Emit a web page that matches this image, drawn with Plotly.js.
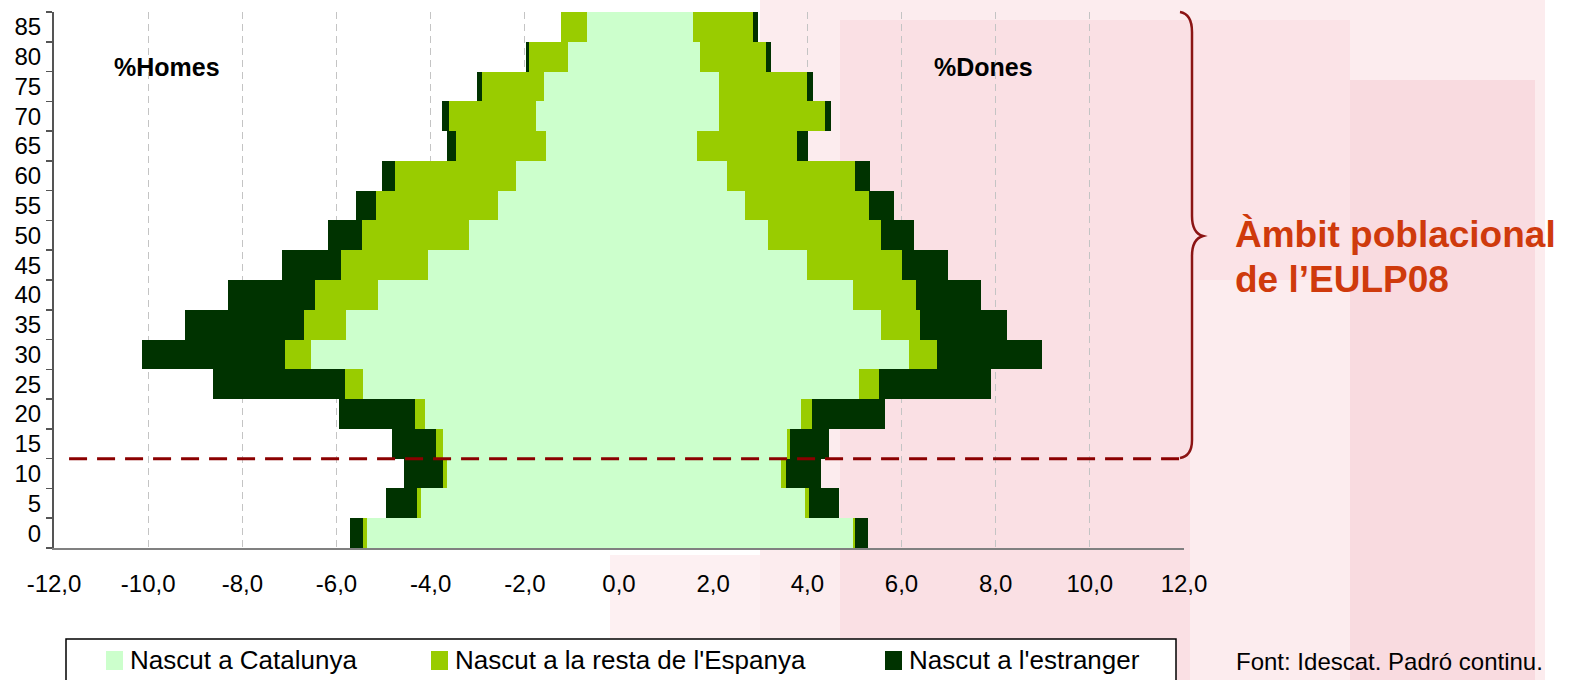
<!DOCTYPE html>
<html>
<head>
<meta charset="utf-8">
<script src="https://cdn.plot.ly/plotly-3.0.1.min.js"></script>
<style>
    body { margin: 0; background: #ffffff; }
    #chart { width: 1571px; height: 680px; }
</style>
</head>
<body>
<div id="chart"></div>
<script>
// Age groups, bottom to top
let ages = ["0", "5", "10", "15", "20", "25", "30", "35", "40", "45", "50", "55", "60", "65", "70", "75", "80", "85"];

// % of population, men (drawn to the left)
let men_catalunya = [5.35, 4.21, 3.65, 3.74, 4.12, 5.44, 6.54, 5.79, 5.12, 4.06, 3.18, 2.58, 2.19, 1.54, 1.76, 1.59, 1.08, 0.68];
let men_espanya   = [0.09, 0.07, 0.09, 0.15, 0.21, 0.38, 0.55, 0.90, 1.33, 1.85, 2.27, 2.59, 2.57, 1.93, 1.86, 1.32, 0.84, 0.55];
let men_estranger = [0.28, 0.66, 0.82, 0.93, 1.61, 2.80, 3.04, 2.53, 1.85, 1.25, 0.73, 0.42, 0.27, 0.18, 0.14, 0.11, 0.05, 0.00];

// % of population, women (drawn to the right)
let women_catalunya = [4.98, 3.96, 3.45, 3.56, 3.86, 5.10, 6.16, 5.56, 4.97, 3.99, 3.17, 2.68, 2.29, 1.66, 2.13, 2.13, 1.72, 1.57];
let women_espanya   = [0.03, 0.07, 0.10, 0.07, 0.24, 0.42, 0.59, 0.83, 1.33, 2.02, 2.39, 2.64, 2.73, 2.12, 2.24, 1.87, 1.40, 1.28];
let women_estranger = [0.27, 0.65, 0.73, 0.82, 1.56, 2.39, 2.24, 1.84, 1.38, 0.97, 0.70, 0.51, 0.32, 0.23, 0.14, 0.13, 0.11, 0.10];

let series_names = ["Nascut a Catalunya", "Nascut a la resta de l'Espanya", "Nascut a l'estranger"];
let series_colors = ["#CCFFCC", "#99CC00", "#003300"];

let x_tick_vals = [-12, -10, -8, -6, -4, -2, 0, 2, 4, 6, 8, 10, 12];
let x_tick_text = ["-12,0", "-10,0", "-8,0", "-6,0", "-4,0", "-2,0", "0,0", "2,0", "4,0", "6,0", "8,0", "10,0", "12,0"];

// Plot area in pixels
let W = 1571, H = 680;
let plot_l = 54, plot_r = 1184, plot_t = 12, plot_b = 548;
let px = (x) => (x - plot_l) / (plot_r - plot_l);
let py = (y) => (plot_b - y) / (plot_b - plot_t);

let font = "Liberation Sans, Arial, sans-serif";
let brace_color = "#8B1414";

let make_trace = (values, idx, negative) => ({
    type: "bar",
    orientation: "h",
    y: ages,
    x: values.map(v => negative ? -v : v),
    name: series_names[idx],
    marker: { color: series_colors[idx], line: { width: 0 } },
    showlegend: false,
    hoverinfo: "skip",
});

let traces = [
    make_trace(men_catalunya, 0, true),
    make_trace(men_espanya, 1, true),
    make_trace(men_estranger, 2, true),
    make_trace(women_catalunya, 0, false),
    make_trace(women_espanya, 1, false),
    make_trace(women_estranger, 2, false),
];

let shapes = [];
let annotations = [];

// Faint pink watermark behind the chart (soft layered tint)
let pink = (x0, y0, x1, y1, color) => shapes.push({
    type: "rect", xref: "paper", yref: "paper", layer: "below",
    x0: px(x0), x1: px(x1), y0: py(y0), y1: py(y1),
    fillcolor: color, line: { width: 0 },
});
pink(760, 0, 1545, 680, "#FCECEE");
pink(610, 555, 760, 680, "#FDF0F2");
pink(840, 20, 1190, 680, "#FAE0E4");
pink(1190, 20, 1350, 280, "#FBE3E7");
pink(1350, 80, 1535, 680, "#F9DBE0");

// Dashed line at the 15-year boundary
shapes.push({
    type: "line", xref: "x", yref: "y",
    x0: -11.68, x1: 11.98, y0: 2.5, y1: 2.5,
    line: { color: "#8B0000", width: 3, dash: "18px,10px" },
});

// Curly brace
{
    let pts = (x, y) => px(x).toFixed(5) + "," + py(y).toFixed(5);
    let path = "M" + pts(1180, 12) +
        " Q" + pts(1192, 14) + " " + pts(1192, 32) +
        " L" + pts(1192, 216) +
        " Q" + pts(1192, 233) + " " + pts(1203, 236) +
        " Q" + pts(1192, 239) + " " + pts(1192, 256) +
        " L" + pts(1192, 440) +
        " Q" + pts(1192, 456) + " " + pts(1180, 458);
    shapes.push({
        type: "path", xref: "paper", yref: "paper", path: path,
        line: { color: brace_color, width: 2.5 },
    });
}

// Legend drawn as a box with swatches
shapes.push({
    type: "rect", xref: "paper", yref: "paper",
    x0: px(66), x1: px(1176), y0: py(639), y1: py(700),
    line: { color: "#000000", width: 1.5 }, fillcolor: "#ffffff",
});
let legend_x = [106, 431, 885];
for (let i = 0; i < series_names.length; i++)
{
    shapes.push({
        type: "rect", xref: "paper", yref: "paper",
        x0: px(legend_x[i]), x1: px(legend_x[i] + 17), y0: py(651), y1: py(670),
        fillcolor: series_colors[i], line: { width: 0 },
    });
    annotations.push({
        xref: "paper", yref: "paper", x: px(legend_x[i] + 22), y: py(660),
        xanchor: "left", yanchor: "middle", showarrow: false,
        text: series_names[i], font: { family: font, size: 26, color: "#000000" },
    });
}

let label = (text, x, y, size, bold, color, anchor) => annotations.push({
    xref: "paper", yref: "paper", x: px(x), y: py(y),
    xanchor: anchor || "center", yanchor: "middle", showarrow: false,
    text: bold ? "<b>" + text + "</b>" : text,
    font: { family: font, size: size, color: color || "#000000" },
});

label("%Homes", 167, 67, 25, true);
label("%Dones", 984, 67, 25, true);
label("Àmbit poblacional", 1233, 234, 37, true, "#CF3A0C", "left");
label("de l’EULP08", 1233, 279, 37, true, "#CF3A0C", "left");
label("Font: Idescat. Padró continu.", 1234, 661, 24, false, "#000000", "left");

let layout = {
    width: W,
    height: H,
    margin: { l: plot_l, r: W - plot_r, t: plot_t, b: H - plot_b },
    paper_bgcolor: "#ffffff",
    plot_bgcolor: "rgba(0,0,0,0)",
    barmode: "relative",
    bargap: 0,
    showlegend: false,
    font: { family: font, size: 24, color: "#000000" },
    xaxis: {
        range: [-12, 12],
        tickvals: x_tick_vals,
        ticktext: x_tick_text,
        showgrid: true,
        gridcolor: "#C4C4C4",
        gridwidth: 1,
        griddash: "7px,5px",
        zeroline: false,
        showline: true,
        linecolor: "#808080",
        linewidth: 2,
        ticks: "",
        ticklabelstandoff: 13,
        tickfont: { family: font, size: 24 },
        fixedrange: true,
    },
    yaxis: {
        type: "category",
        categoryorder: "array",
        categoryarray: ages,
        range: [-0.5, ages.length - 0.5],
        tickson: "boundaries",
        ticks: "outside",
        ticklen: 6,
        tickwidth: 1.5,
        tickcolor: "#555555",
        showgrid: false,
        showline: true,
        linecolor: "#555555",
        linewidth: 2,
        ticklabelstandoff: 6,
        tickfont: { family: font, size: 24 },
        fixedrange: true,
    },
    shapes: shapes,
    annotations: annotations,
};

Plotly.newPlot("chart", traces, layout, { displayModeBar: false, staticPlot: true });
</script>
</body>
</html>
